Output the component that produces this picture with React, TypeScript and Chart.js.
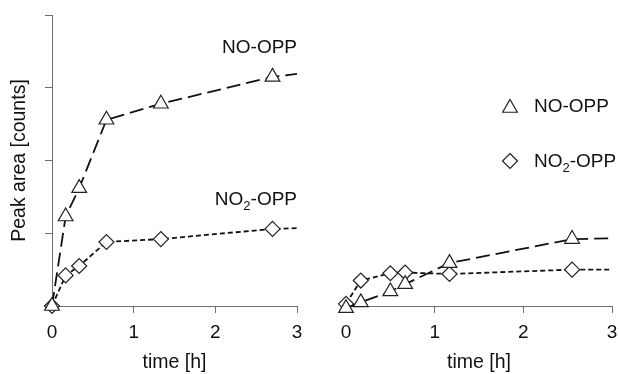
import { useEffect, useRef } from 'react';
import { Chart, registerables } from 'chart.js';

Chart.register(...registerables);

// ---- data ----
const timesLeft = [0, 0.167, 0.333, 0.667, 1.333, 2.7, 3];
const noOppLeft = [0, 1.23, 1.62, 2.56, 2.78, 3.15, 3.19];
const no2OppLeft = [0, 0.42, 0.55, 0.88, 0.92, 1.06, 1.07];
const markersLeft = [true, true, true, true, true, true, false];

const timesRight = [0, 0.167, 0.5, 0.667, 1.167, 2.55, 3];
const noOppRight = [-0.03, 0.05, 0.2, 0.3, 0.59, 0.92, 0.93];
const no2OppRight = [0.03, 0.35, 0.45, 0.46, 0.44, 0.5, 0.5];
const markersRight = [true, true, true, true, true, true, false];

const xTicks = [0, 1, 2, 3];
const yMin = 0;
const yMax = 4;

const seriesNames = ['NO-OPP', 'NO2-OPP'];

const FAMILY = "'Liberation Sans', Arial, Helvetica, sans-serif";
const AXIS = '#707070';
const TEXT = '#111111';

type Part = [string, boolean];
const richName = (name: string): Part[] =>
  name === 'NO2-OPP' ? [['NO', false], ['2', true], ['-OPP', false]] : [[name, false]];

function drawRich(ctx: CanvasRenderingContext2D, parts: Part[], x: number, y: number, align: 'left' | 'right') {
  const big = `19px ${FAMILY}`;
  const small = `13px ${FAMILY}`;
  let total = 0;
  for (const [t, sub] of parts) {
    ctx.font = sub ? small : big;
    total += ctx.measureText(t).width;
  }
  let cx = align === 'right' ? x - total : x;
  ctx.textBaseline = 'alphabetic';
  ctx.textAlign = 'left';
  ctx.fillStyle = TEXT;
  for (const [t, sub] of parts) {
    ctx.font = sub ? small : big;
    ctx.fillText(t, cx, sub ? y + 5 : y);
    cx += ctx.measureText(t).width;
  }
}

function drawMarker(ctx: CanvasRenderingContext2D, kind: 'triangle' | 'diamond', x: number, y: number, r: number) {
  ctx.beginPath();
  if (kind === 'triangle') {
    for (let i = 0; i < 3; i++) {
      const a = (i * 2 * Math.PI) / 3;
      const px = x + Math.sin(a) * r;
      const py = y - Math.cos(a) * r;
      if (i === 0) ctx.moveTo(px, py);
      else ctx.lineTo(px, py);
    }
  } else {
    ctx.moveTo(x, y - r);
    ctx.lineTo(x + r, y);
    ctx.lineTo(x, y + r);
    ctx.lineTo(x - r, y);
  }
  ctx.closePath();
  ctx.fillStyle = '#ffffff';
  ctx.fill();
  ctx.strokeStyle = '#222';
  ctx.lineWidth = 1.2;
  ctx.setLineDash([]);
  ctx.stroke();
}

const labelsPlugin = {
  id: 'leftLabels',
  afterDatasetsDraw(chart: any) {
    const ctx = chart.ctx as CanvasRenderingContext2D;
    const a = chart.chartArea;
    ctx.save();
    drawRich(ctx, richName(seriesNames[0]), a.right, a.top + 38, 'right');
    drawRich(ctx, richName(seriesNames[1]), a.right, a.top + 190, 'right');
    ctx.restore();
  },
};

const legendPlugin = {
  id: 'rightLegend',
  afterDatasetsDraw(chart: any) {
    const ctx = chart.ctx as CanvasRenderingContext2D;
    const a = chart.chartArea;
    ctx.save();
    const mx = a.left + 164;
    drawMarker(ctx, 'triangle', mx, a.top + 93, 8.5);
    drawRich(ctx, richName(seriesNames[0]), mx + 24, a.top + 97, 'left');
    drawMarker(ctx, 'diamond', mx, a.top + 146, 7.5);
    drawRich(ctx, richName(seriesNames[1]), mx + 24, a.top + 152, 'left');
    ctx.restore();
  },
};

function makeDatasets(times: number[], noOpp: number[], no2Opp: number[], markers: boolean[]) {
  return [
    {
      label: seriesNames[0],
      data: times.map((t, i) => ({ x: t, y: noOpp[i] })),
      borderColor: '#111',
      borderWidth: 1.8,
      borderDash: [14, 6],
      pointStyle: 'triangle',
      pointRadius: markers.map((m) => (m ? 8.5 : 0)),
      pointBackgroundColor: '#fff',
      pointBorderColor: '#222',
      pointBorderWidth: 1.2,
      tension: 0,
      clip: false,
      fill: false,
    },
    {
      label: seriesNames[1],
      data: times.map((t, i) => ({ x: t, y: no2Opp[i] })),
      borderColor: '#111',
      borderWidth: 1.8,
      borderDash: [5, 3],
      pointStyle: 'rectRot',
      pointRadius: markers.map((m) => (m ? 7.5 : 0)),
      pointBackgroundColor: '#fff',
      pointBorderColor: '#222',
      pointBorderWidth: 1.2,
      tension: 0,
      clip: false,
      fill: false,
    },
  ];
}

function xScale() {
  return {
    type: 'linear',
    min: xTicks[0],
    max: xTicks[xTicks.length - 1],
    afterBuildTicks: (s: any) => {
      s.ticks = xTicks.map((v) => ({ value: v }));
    },
    ticks: {
      font: { family: FAMILY, size: 19 },
      color: TEXT,
      padding: 8,
      maxRotation: 0,
      autoSkip: false,
    },
    grid: { drawOnChartArea: false, drawTicks: true, tickLength: 7, color: AXIS, lineWidth: 1 },
    border: { display: true, color: AXIS, width: 1 },
    title: {
      display: true,
      text: 'time [h]',
      font: { family: FAMILY, size: 19.5 },
      color: TEXT,
      padding: { top: 0, bottom: 0 },
    },
    afterFit: (s: any) => {
      s.height = 68;
      s.paddingLeft = 0;
      s.paddingRight = 0;
    },
  };
}

function makeLeft(canvas: HTMLCanvasElement) {
  return new Chart(canvas, {
    type: 'line',
    data: { datasets: makeDatasets(timesLeft, noOppLeft, no2OppLeft, markersLeft) as any },
    options: {
      responsive: false,
      animation: false,
      events: [],
      layout: { autoPadding: false, padding: { left: 0, top: 15, right: 322, bottom: 0 } },
      plugins: { legend: { display: false }, tooltip: { enabled: false } },
      scales: {
        x: xScale() as any,
        y: {
          type: 'linear',
          min: yMin,
          max: yMax,
          ticks: { stepSize: 1, callback: () => '' },
          grid: { drawOnChartArea: false, drawTicks: true, tickLength: 7, color: AXIS, lineWidth: 1 },
          border: { display: true, color: AXIS, width: 1 },
          title: {
            display: true,
            text: 'Peak area [counts]',
            font: { family: FAMILY, size: 19.5 },
            color: TEXT,
            padding: { top: 8, bottom: 0 },
          },
          afterFit: (s: any) => {
            s.width = 52;
            s.paddingTop = 0;
            s.paddingBottom = 0;
          },
        },
      },
    },
    plugins: [labelsPlugin],
  });
}

function makeRight(canvas: HTMLCanvasElement) {
  return new Chart(canvas, {
    type: 'line',
    data: { datasets: makeDatasets(timesRight, noOppRight, no2OppRight, markersRight) as any },
    options: {
      responsive: false,
      animation: false,
      events: [],
      layout: { autoPadding: false, padding: { left: 346, top: 15, right: 7, bottom: 0 } },
      plugins: { legend: { display: false }, tooltip: { enabled: false } },
      scales: {
        x: xScale() as any,
        y: { type: 'linear', min: yMin, max: yMax, display: false },
      },
    },
    plugins: [legendPlugin],
  });
}

export default function App() {
  const leftRef = useRef<HTMLCanvasElement>(null);
  const rightRef = useRef<HTMLCanvasElement>(null);

  useEffect(() => {
    const l = makeLeft(leftRef.current!);
    const r = makeRight(rightRef.current!);
    return () => {
      l.destroy();
      r.destroy();
    };
  }, []);

  const cs: React.CSSProperties = { position: 'absolute', left: 0, top: 0, width: 619, height: 374 };
  return (
    <div style={{ position: 'fixed', left: 0, top: 0, width: 619, height: 374, background: '#fff' }}>
      <canvas ref={leftRef} width={619} height={374} style={cs} />
      <canvas ref={rightRef} width={619} height={374} style={cs} />
    </div>
  );
}
